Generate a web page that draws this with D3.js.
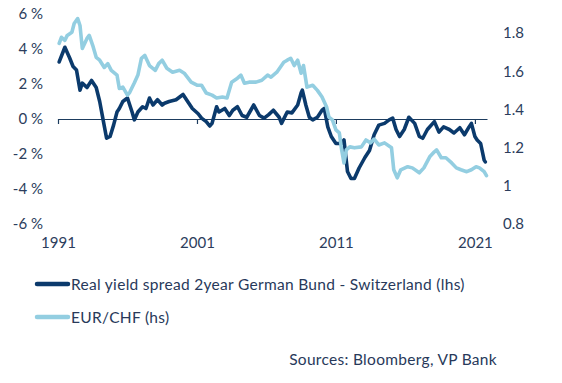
<!DOCTYPE html>
<html>
<head>
<meta charset="utf-8">
<script src="https://cdn.jsdelivr.net/npm/d3@7"></script>
<style>
  body { margin:0; background:#fff; }
  text { font-family: Lato, "Open Sans", sans-serif; fill:#28395a; }
</style>
</head>
<body>
<svg id="chart" width="562" height="383"></svg>
<script>
// Real yield spread 2y German Bund - Switzerland (%), left axis
const spreadDates = ['1991-02','1991-07','1991-11','1992-02','1992-05','1992-08','1992-10','1993-02','1993-06','1993-10',
  '1994-01','1994-04','1994-07','1994-10','1995-01','1995-04','1995-06','1995-09','1996-01','1996-05','1996-07','1996-10',
  '1997-02','1997-05','1997-08','1997-11','1998-03','1998-07','1998-09','1999-01','1999-07','2000-01','2000-05','2000-09',
  '2001-02','2001-05','2001-09','2001-12','2002-02','2002-06','2002-08','2003-01','2003-05','2003-08','2003-12','2004-04',
  '2004-08','2005-02','2005-07','2005-11','2006-03','2006-07','2006-12','2007-02','2007-07','2007-11','2008-04','2008-07',
  '2008-08','2008-11','2009-02','2009-05','2009-09','2010-01','2010-03','2010-06','2010-09','2011-01','2011-06','2011-08',
  '2011-11','2012-02','2012-05','2012-09','2013-02','2013-06','2013-10','2014-02','2014-07','2014-11','2015-02','2015-05',
  '2015-08','2015-12','2016-04','2016-09','2017-01','2017-04','2017-08','2018-02','2018-06','2018-10','2019-03','2019-07',
  '2019-12','2020-04','2020-08','2020-10','2021-01','2021-03','2021-06','2021-09','2021-10'];
const spreadValues = [3.26,4.1,3.5,3.0,2.8,1.65,2.05,1.8,2.2,1.8,
  1.0,-0.05,-1.1,-1.0,-0.35,0.4,0.6,1.0,1.2,0.4,-0.05,0.4,
  0.7,0.6,1.2,0.8,1.1,0.8,0.9,1.0,1.1,1.4,1.0,0.6,
  0.3,0.05,-0.15,-0.4,-0.25,0.7,0.4,0.6,0.2,0.5,0.7,0.2,
  0.1,0.8,0.2,0.05,0.25,0.5,0.1,-0.25,0.4,0.35,0.8,1.5,
  1.65,0.8,0.1,-0.05,0.1,0.5,0.6,-0.45,-1.0,-1.4,-1.4,-1.2,
  -3.0,-3.4,-3.4,-2.8,-2.2,-1.8,-0.9,-0.35,-0.25,-0.05,0.05,-0.6,
  -1.0,-0.6,0.1,-0.25,-1.0,-1.1,-0.6,-0.15,-0.75,-0.45,-0.6,-0.8,
  -0.5,-0.9,-0.45,-0.25,-1.0,-1.2,-1.4,-2.35,-2.45];

// EUR/CHF, right axis
const eurchfDates = ['1991-02','1991-04','1991-07','1991-09','1992-01','1992-03','1992-06','1992-08','1992-10','1993-02',
  '1993-04','1993-07','1993-10','1994-01','1994-05','1994-08','1994-11','1995-04','1995-06','1995-09','1996-01','1996-03',
  '1996-07','1996-10','1997-01','1997-04','1997-08','1998-01','1998-04','1998-07','1998-11','1999-04','1999-10','2000-02',
  '2000-08','2001-01','2001-05','2001-09','2002-02','2002-06','2002-11','2003-03','2003-07','2003-12','2004-03','2004-06',
  '2004-10','2005-04','2005-09','2006-02','2006-05','2006-10','2007-02','2007-04','2007-07','2007-10','2008-01','2008-04',
  '2008-07','2008-09','2008-12','2009-05','2009-09','2010-01','2010-05','2010-07','2010-10','2011-01','2011-04','2011-06',
  '2011-08','2011-10','2012-01','2012-05','2012-11','2013-03','2013-07','2013-10','2014-02','2014-07','2015-01','2015-03',
  '2015-06','2015-09','2016-03','2016-07','2017-01','2017-05','2017-10','2018-02','2018-04','2018-08','2018-12','2019-05',
  '2019-09','2020-01','2020-06','2020-10','2021-02','2021-05','2021-09','2021-11'];
const eurchfValues = [1.746,1.778,1.762,1.788,1.804,1.85,1.876,1.84,1.72,1.772,
  1.788,1.736,1.673,1.658,1.62,1.64,1.605,1.58,1.51,1.517,1.475,1.49,
  1.54,1.58,1.668,1.683,1.63,1.605,1.64,1.658,1.616,1.595,1.605,1.59,
  1.543,1.527,1.527,1.486,1.475,1.46,1.465,1.46,1.543,1.564,1.58,1.537,
  1.543,1.543,1.553,1.58,1.569,1.595,1.63,1.647,1.658,1.668,1.63,1.658,
  1.59,1.63,1.517,1.527,1.50,1.465,1.413,1.36,1.345,1.293,1.277,1.188,
  1.12,1.188,1.204,1.199,1.204,1.24,1.225,1.245,1.214,1.225,1.199,1.084,
  1.042,1.084,1.10,1.094,1.068,1.094,1.152,1.178,1.188,1.147,1.147,1.12,
  1.094,1.084,1.074,1.084,1.10,1.094,1.074,1.053];

const leftTicks = [-6,-4,-2,0,2,4,6];
const rightTicks = [0.8,1,1.2,1.4,1.6,1.8];
const yearTicks = [1991,2001,2011,2021];
const legendLabels = ['Real yield spread 2year German Bund - Switzerland (lhs)','EUR/CHF (hs)'];
const sourceText = 'Sources: Bloomberg, VP Bank';

const darkColor = '#0b3a6c';
const lightColor = '#93cee1';

const svg = d3.select('#chart');
const parse = d3.timeParse('%Y-%m');

const spread = spreadDates.map((d,i) => ({date: parse(d), value: spreadValues[i]}));
const eurchf = eurchfDates.map((d,i) => ({date: parse(d), value: eurchfValues[i]}));

const xscale = d3.scaleTime()
    .domain([new Date(1991,0,1), new Date(2021,10,15)])
    .range([58,487]);
const yLeft = d3.scaleLinear().domain([-6,6]).range([224,14]);
const yRight = d3.scaleLinear().domain([0.8,1.9]).range([224,14]);

// left axis labels
const leftAxis = svg.append('g')
    .attr('transform','translate(49,0)')
    .call(d3.axisLeft(yLeft).tickValues(leftTicks).tickSize(0).tickPadding(6).tickFormat(d => d + ' %'));
// right axis labels
const rightAxis = svg.append('g')
    .attr('transform','translate(497,0)')
    .call(d3.axisRight(yRight).tickValues(rightTicks).tickSize(0).tickPadding(6).tickFormat(d3.format('~g')));
[leftAxis,rightAxis].forEach(a => {
    a.select('.domain').remove();
    a.selectAll('text').style('font-size','15px').style('fill','#2c3d5c');
});

// zero line with year ticks
const zeroAxis = svg.append('g')
    .attr('transform',`translate(0,${yLeft(0)})`)
    .call(d3.axisBottom(xscale)
        .tickValues(yearTicks.map(y => new Date(y,0,1)))
        .tickSizeInner(5).tickSizeOuter(0).tickFormat(''));
zeroAxis.selectAll('path, line').attr('stroke','#1d3c5e').attr('stroke-width',1.2);

// year labels at the bottom
const yearAxis = svg.append('g')
    .attr('transform','translate(0,237)')
    .call(d3.axisBottom(xscale)
        .tickValues(yearTicks.map(y => new Date(y,0,1)))
        .tickSize(0).tickPadding(0).tickFormat(d3.timeFormat('%Y')));
yearAxis.select('.domain').remove();
yearAxis.selectAll('text').style('font-size','15px').style('fill','#2c3d5c');

const lineLeft = d3.line().x(d => xscale(d.date)).y(d => yLeft(d.value));
const lineRight = d3.line().x(d => xscale(d.date)).y(d => yRight(d.value));

svg.append('path').datum(spread)
    .attr('d', lineLeft)
    .attr('fill','none').attr('stroke',darkColor)
    .attr('stroke-width',3.6).attr('stroke-linejoin','round').attr('stroke-linecap','round');

svg.append('path').datum(eurchf)
    .attr('d', lineRight)
    .attr('fill','none').attr('stroke',lightColor)
    .attr('stroke-width',3.6).attr('stroke-linejoin','round').attr('stroke-linecap','round');

// legend
const legend = svg.append('g');
[darkColor, lightColor].forEach((c,i) => {
    const y = 284 + i*33;
    legend.append('line')
        .attr('x1',37).attr('x2',68).attr('y1',y).attr('y2',y)
        .attr('stroke',c).attr('stroke-width',4.5).attr('stroke-linecap','round');
    legend.append('text')
        .attr('x',71).attr('y',y+5.5)
        .style('font-size','15.5px')
        .style('letter-spacing','0.3px')
        .text(legendLabels[i]);
});

svg.append('text')
    .attr('x',497).attr('y',365)
    .attr('text-anchor','end')
    .style('font-size','15.5px')
    .style('letter-spacing','0.3px')
    .text(sourceText);
</script>
</body>
</html>
